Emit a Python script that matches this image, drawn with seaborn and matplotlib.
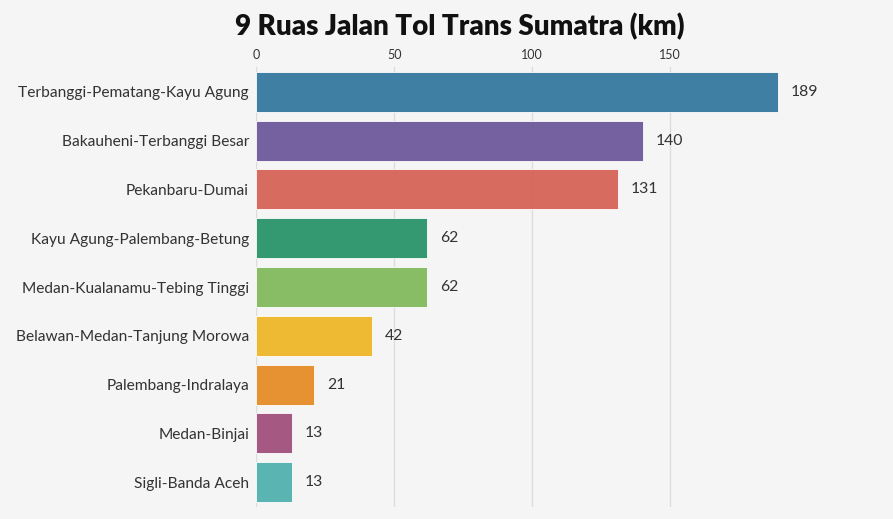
import matplotlib
matplotlib.use("Agg")
import matplotlib.pyplot as plt
import seaborn as sns
import pandas as pd

categories = ["Terbanggi-Pematang-Kayu Agung", "Bakauheni-Terbanggi Besar", "Pekanbaru-Dumai",
              "Kayu Agung-Palembang-Betung", "Medan-Kualanamu-Tebing Tinggi",
              "Belawan-Medan-Tanjung Morowa", "Palembang-Indralaya", "Medan-Binjai", "Sigli-Banda Aceh"]
values = [189, 140, 131, 62, 62, 42, 21, 13, 13]
colors = ["#3a7ba2", "#725c9d", "#d6665a", "#2e956c", "#86bb60", "#eeb82c", "#e68e2b", "#a3537e", "#55b2b0"]
ticks = [0, 50, 100, 150]

sns.set_theme(style="white")
plt.rcParams['font.family'] = ['Lato', 'DejaVu Sans']

df = pd.DataFrame({"ruas": categories, "km": values})

fig = plt.figure(figsize=(8.93, 5.19), dpi=100)
fig.patch.set_facecolor("#f5f5f5")
ax = fig.add_axes([256/893, 12/519, 1 - 256/893 - 0.005, (507-67)/519])
ax.set_facecolor("#f5f5f5")

sns.barplot(data=df, x="km", y="ruas", hue="ruas", palette=colors, legend=False,
            saturation=1, width=0.82, alpha=0.97, edgecolor="#ffffff", linewidth=0.6,
            ax=ax, zorder=3)

ax.set_xlim(0, 229)
ax.set_ylim(8.51, -0.51)
ax.xaxis.tick_top()
ax.set_xticks(ticks)
ax.set_xticklabels([str(t) for t in ticks], fontsize=9, color="#333333")
ax.tick_params(axis="x", length=0, pad=4)
ax.tick_params(axis="y", length=0, pad=5, labelsize=11.2, labelcolor="#333333")
ax.grid(axis="x", color="#dcdcdc", linewidth=1, zorder=0)
ax.set_axisbelow(True)
ax.set_xlabel("")
ax.set_ylabel("")
for s in ax.spines.values():
    s.set_visible(False)

for i, v in enumerate(values):
    ax.text(v + 4.7, i, str(v), va="center", ha="left", fontsize=11.3, color="#333333")

fig.text(460/893, 1 - 27/519, "9 Ruas Jalan Tol Trans Sumatra (km)", ha="center", va="center",
         fontsize=20, fontweight="heavy", color="#111111")

fig.savefig("out.png", dpi=100, facecolor=fig.get_facecolor())
